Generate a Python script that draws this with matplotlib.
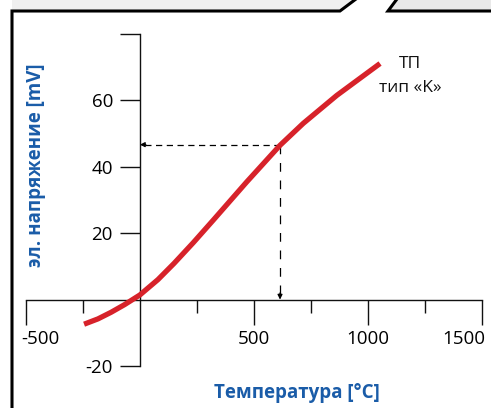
import matplotlib
matplotlib.use('Agg')
import matplotlib.pyplot as plt
import matplotlib.transforms as mtrans
from matplotlib.patches import Polygon

# ---- data ----
temp_c = [-245, -184, -126, -67, 0, 79, 150, 234, 322, 469, 615, 717, 864, 1054]
emf_mv = [-7.4, -5.8, -3.8, -1.5, 1.4, 6.0, 10.9, 17.1, 23.9, 35.4, 46.4, 53.0, 61.4, 71.0]
ref_temp = 615
ref_emf = 46.6

x_major = [-500, 500, 1000, 1500]
x_major_labels = ['-500', '500', '1000', '1500']
x_minor = [-250, 250, 750, 1250]
y_major = [-20, 20, 40, 60, 80]
y_major_labels = ['-20', '20', '40', '60', '']

x_title = 'Температура [°C]'
y_title = 'эл. напряжение [mV]'
curve_name = 'ТП'
curve_type = 'тип «K»'

plt.rcParams['font.family'] = ['Open Sans', 'DejaVu Sans']
BLUE = '#1a5ca8'
RED = '#d7222a'

W, H = 491, 408
fig = plt.figure(figsize=(W / 100, H / 100), dpi=100)

# ---- decorative frame (pixel coordinates) ----
fa = fig.add_axes([0, 0, 1, 1], zorder=0)
fa.set_xlim(0, W)
fa.set_ylim(H, 0)
fa.axis('off')
fa.add_patch(Polygon([(12, 0), (355, 0), (340, 11), (12, 11)], closed=True,
                     fc='#f0f0f0', ec='none'))
fa.add_patch(Polygon([(396, 0), (W, 0), (W, 11), (388, 11)], closed=True,
                     fc='#e9e9e9', ec='none'))
fa.plot([12, 12, 340, 356], [H + 5, 11, 11, -1], color='black', lw=2.2,
        solid_joinstyle='miter')
fa.plot([397, 388, W + 5], [-1, 11, 11], color='black', lw=2.2,
        solid_joinstyle='miter')

# ---- main chart ----
ax = fig.add_axes([0, 0, 1, 1], zorder=1, facecolor='none')
ax.set_xlim(-614, 1541)
ax.set_ylim(-32.6, 90.1)

for s in ['top', 'right']:
    ax.spines[s].set_visible(False)
ax.spines['left'].set_position(('data', 0))
ax.spines['bottom'].set_position(('data', 0))
ax.spines['left'].set_bounds(-20, 80)
ax.spines['bottom'].set_bounds(-500, 1500)
for s in ['left', 'bottom']:
    ax.spines[s].set_linewidth(1.0)
    ax.spines[s].set_color('#111111')

ax.set_xticks(x_major)
ax.set_xticklabels(x_major_labels)
ax.set_xticks(x_minor, minor=True)
ax.set_yticks(y_major)
ax.set_yticklabels(y_major_labels)
ax.tick_params(axis='x', which='major', direction='out', length=18, width=1.0,
               pad=4, labelsize=13.5, color='#111111')
ax.tick_params(axis='x', which='minor', direction='out', length=9.4, width=1.0,
               color='#111111')
ax.tick_params(axis='y', which='major', direction='out', length=14.4, width=1.0,
               pad=5, labelsize=13.5, color='#111111')

# edge labels are pulled inward as in the reference
xt = ax.get_xticklabels()
xt[0].set_ha('left')
xt[0].set_transform(xt[0].get_transform() +
                    mtrans.ScaledTranslation(-5 / 100, 0, fig.dpi_scale_trans))
xt[-1].set_ha('right')
xt[-1].set_transform(xt[-1].get_transform() +
                     mtrans.ScaledTranslation(4 / 100, 0, fig.dpi_scale_trans))

# dashed guide lines with arrowheads
ax.plot([ref_temp, 22], [ref_emf, ref_emf], color='black', lw=0.9,
        dashes=(5, 3.6), zorder=2)
ax.annotate('', xy=(0, ref_emf), xytext=(26, ref_emf),
            arrowprops=dict(arrowstyle='-|>', color='black', lw=0.9,
                            mutation_scale=7, shrinkA=0, shrinkB=0), zorder=2)
ax.plot([ref_temp, ref_temp], [ref_emf, 1.5], color='black', lw=0.9,
        dashes=(7, 7), zorder=2)
ax.annotate('', xy=(ref_temp, 0), xytext=(ref_temp, 2.0),
            arrowprops=dict(arrowstyle='-|>', color='black', lw=0.9,
                            mutation_scale=7, shrinkA=0, shrinkB=0), zorder=2)

# thermocouple curve
ax.plot(temp_c, emf_mv, color=RED, lw=3.8, solid_capstyle='butt',
        solid_joinstyle='round', zorder=3)

ax.text(1185, 71.0, curve_name, ha='center', va='center', fontsize=12.5,
        color='#111111')
ax.text(1185, 63.6, curve_type, ha='center', va='center', fontsize=12.5,
        color='#111111')

fig.text(36.5 / W, 1 - 165 / H, y_title, rotation=90, ha='center', va='center',
         fontsize=13.5, fontweight='bold', color=BLUE)
fig.text(297 / W, 1 - 393 / H, x_title, ha='center', va='center',
         fontsize=13.5, fontweight='bold', color=BLUE)

fig.savefig('out.png', dpi=100)
